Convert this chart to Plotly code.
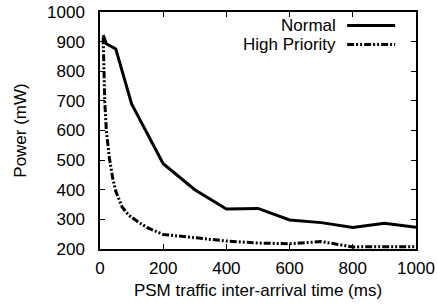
import plotly.graph_objects as go

# Data
normal_x = [10, 20, 50, 100, 200, 300, 400, 500, 600, 700, 800, 900, 1000]
normal_y = [922, 893, 875, 690, 488, 400, 335, 337, 298, 289, 273, 287, 273]

high_x = [10, 15, 20, 30, 40, 50, 70, 90, 120, 150, 200, 300, 400, 500, 600, 700, 800, 900, 1000]
high_y = [915, 700, 600, 505, 440, 395, 342, 315, 292, 272, 249, 237, 227, 220, 218, 225, 207, 208, 208]

x_ticks = [0, 200, 400, 600, 800, 1000]
y_ticks = [200, 300, 400, 500, 600, 700, 800, 900, 1000]

FONT = "Liberation Sans, Arial, Helvetica, sans-serif"
FS = 17
DASHDOT = "7px,2px,2px,2px,2px,2px"

fig = go.Figure()
fig.add_trace(go.Scatter(x=normal_x, y=normal_y, mode="lines", name="Normal",
                         line=dict(color="black", width=3)))
fig.add_trace(go.Scatter(x=high_x, y=high_y, mode="lines", name="High Priority",
                         line=dict(color="black", width=3, dash=DASHDOT)))

# gnuplot-style legend: text right-aligned, sample line on the right
legend_items = [("Normal", "solid", 0.943), ("High Priority", DASHDOT, 0.863)]
for label, dash, yy in legend_items:
    fig.add_annotation(x=0.752, y=yy, xref="paper", yref="paper", text=label,
                       showarrow=False, xanchor="right", yanchor="middle",
                       font=dict(size=FS, color="black", family=FONT))
    fig.add_shape(type="line", xref="paper", yref="paper", x0=0.782, x1=0.934, y0=yy, y1=yy,
                  line=dict(color="black", width=3, dash=dash))

axis_common = dict(showgrid=False, zeroline=False, showline=True, linecolor="black", linewidth=1.5,
                   mirror="allticks", ticks="inside", ticklen=5, tickwidth=1, tickcolor="black",
                   automargin=False,
                   tickfont=dict(size=FS, color="black", family=FONT))

fig.update_xaxes(range=[0, 1000], tickvals=x_ticks, ticktext=[str(v) for v in x_ticks],
                 ticklabelstandoff=3,
                 title=dict(text="PSM traffic inter-arrival time (ms)", standoff=7,
                            font=dict(size=FS, color="black", family=FONT)),
                 **axis_common)
fig.update_yaxes(range=[200, 1000], tickvals=y_ticks, ticktext=[str(v) for v in y_ticks],
                 ticklabelstandoff=10,
                 title=dict(text="Power (mW)", standoff=16,
                            font=dict(size=FS, color="black", family=FONT)),
                 **axis_common)

fig.update_layout(width=437, height=307, margin=dict(l=100, r=21, t=12, b=58),
                  paper_bgcolor="white", plot_bgcolor="white", showlegend=False,
                  font=dict(family=FONT, color="black"))

fig.write_html("out.html", config={"displayModeBar": False},
               post_script="document.body.style.margin='0';")
